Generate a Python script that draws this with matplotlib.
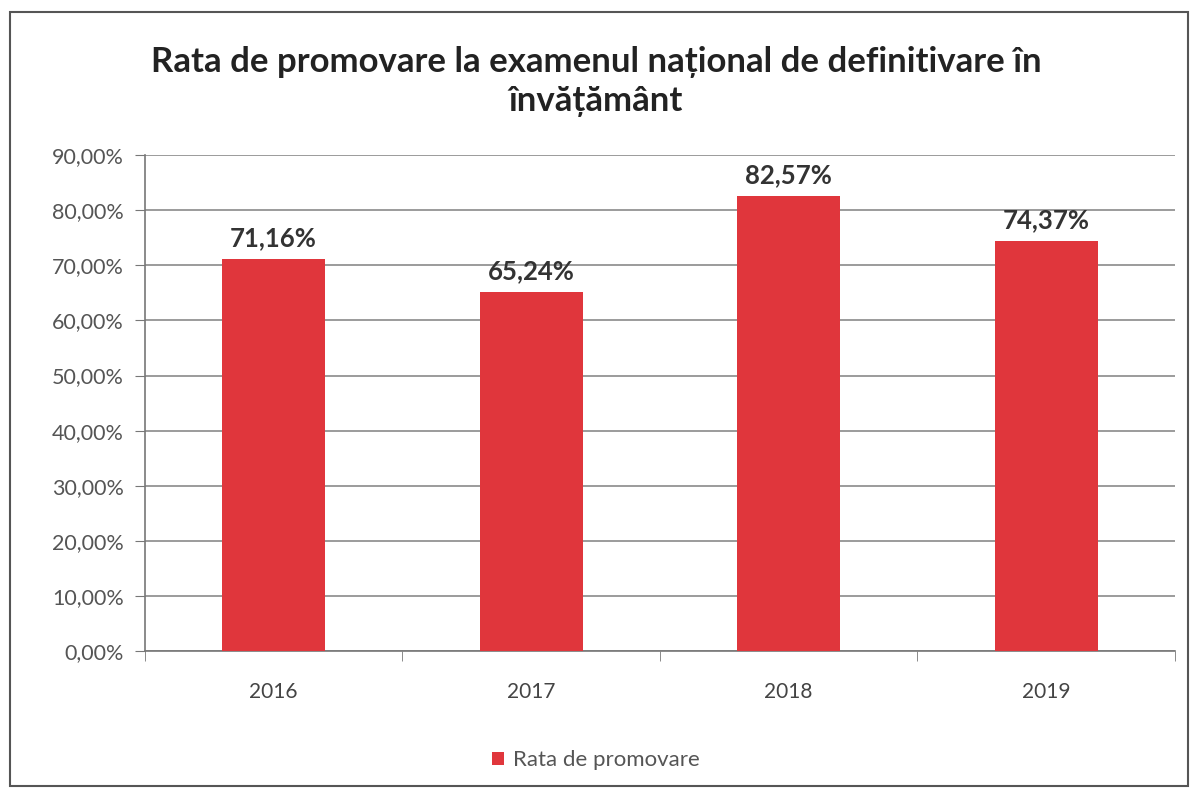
import matplotlib.pyplot as plt
from matplotlib.patches import Rectangle
from matplotlib.ticker import FuncFormatter, MultipleLocator

# Datele graficului
years = ["2016", "2017", "2018", "2019"]
rates = [0.7116, 0.6524, 0.8257, 0.7437]
rate_labels = ["71,16%", "65,24%", "82,57%", "74,37%"]
series_name = "Rata de promovare"
title = "Rata de promovare la examenul național de definitivare în\nînvățământ"

plt.rcParams['font.family'] = ['Lato', 'DejaVu Sans']

fig = plt.figure(figsize=(11.92, 7.92), dpi=100)
ax = fig.add_axes([0.1216, 0.178, 0.864, 0.626])

bar_color = "#E0363C"
x = range(len(years))
bars = ax.bar(x, rates, width=0.4, color=bar_color, label=series_name, zorder=3)

for b, lab in zip(bars, rate_labels):
    ax.text(b.get_x() + b.get_width() / 2, b.get_height() + 0.016, lab,
            ha='center', va='bottom', fontsize=18.5, fontweight='bold', color='#333333')

ax.set_xlim(-0.5, len(years) - 0.5)
ax.set_ylim(0, 0.9)
ax.yaxis.set_major_locator(MultipleLocator(0.1))
ax.yaxis.set_major_formatter(FuncFormatter(lambda v, p: f"{v*100:.2f}%".replace('.', ',')))

ax.set_xticks(list(x))
ax.set_xticklabels(years)
ax.set_xticks([i - 0.5 for i in range(len(years) + 1)], minor=True)
ax.tick_params(axis='x', which='major', length=0, pad=22, labelsize=15, colors='#444444')
ax.tick_params(axis='x', which='minor', length=7, color='#777777', direction='out')
ax.tick_params(axis='y', length=7, color='#777777', labelsize=15.5, labelcolor='#555555', pad=8)

ax.grid(axis='y', color='#8a8a8a', linewidth=1.2, zorder=0)
for s in ['top', 'right']:
    ax.spines[s].set_visible(False)
ax.spines['left'].set_color('#777777')
ax.spines['bottom'].set_color('#777777')
ax.spines['left'].set_linewidth(1.2)
ax.spines['bottom'].set_linewidth(1.2)

fig.text(0.5, 0.942, title, ha='center', va='top', fontsize=25,
         fontweight='bold', color='#222222', linespacing=1.27)

fig.legend(loc='center', bbox_to_anchor=(0.5, 0.04), frameon=False,
           fontsize=16, handlelength=0.55, handleheight=0.55, handletextpad=0.4,
           labelcolor='#555555')

fig.patches.append(Rectangle((10 / 1192, 6 / 792), 1178 / 1192, 774 / 792,
                             transform=fig.transFigure, fill=False,
                             edgecolor='#555555', linewidth=1.5))

fig.savefig("out.png", dpi=100)
